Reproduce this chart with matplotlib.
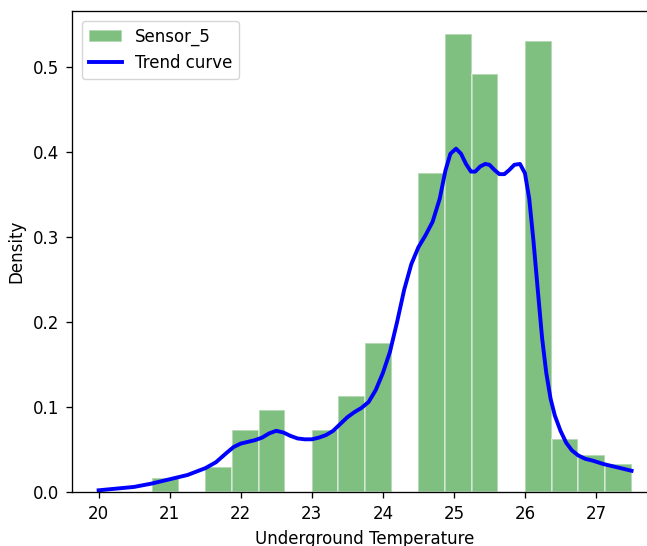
import numpy as np
import matplotlib.pyplot as plt

# histogram bins (width 0.375) and densities
bin_edges = np.linspace(20.0, 27.5, 21)
densities = [0.0, 0.0, 0.016, 0.0, 0.029, 0.073, 0.096, 0.0,
             0.073, 0.113, 0.175, 0.0, 0.375, 0.539, 0.492, 0.0,
             0.531, 0.062, 0.044, 0.033]

# trend curve points
trend_x = [20.0, 20.25, 20.5, 20.75, 21.0, 21.25, 21.5, 21.65, 21.8, 21.9,
           22.0, 22.1, 22.2, 22.3, 22.4, 22.5, 22.6, 22.7, 22.8, 22.9,
           23.0, 23.1, 23.2, 23.3, 23.4, 23.5, 23.6, 23.7, 23.8, 23.9,
           24.0, 24.1, 24.2, 24.3, 24.4, 24.5, 24.6, 24.7, 24.8, 24.88,
           24.95, 25.03, 25.1, 25.17, 25.24, 25.3, 25.37, 25.44, 25.5, 25.57,
           25.64, 25.71, 25.78, 25.85, 25.93, 26.0, 26.06, 26.12, 26.18, 26.24,
           26.3, 26.36, 26.42, 26.5, 26.58, 26.66, 26.75, 26.85, 26.95, 27.1,
           27.3, 27.5]
trend_y = [0.002, 0.004, 0.006, 0.010, 0.015, 0.020, 0.028, 0.035, 0.046, 0.053,
           0.057, 0.059, 0.061, 0.064, 0.069, 0.072, 0.070, 0.066, 0.063, 0.062,
           0.062, 0.064, 0.067, 0.072, 0.080, 0.088, 0.094, 0.099, 0.106, 0.120,
           0.140, 0.165, 0.200, 0.238, 0.268, 0.288, 0.302, 0.318, 0.345, 0.378,
           0.398, 0.404, 0.398, 0.386, 0.377, 0.377, 0.383, 0.386, 0.385, 0.379,
           0.374, 0.374, 0.379, 0.385, 0.386, 0.375, 0.345, 0.295, 0.238, 0.182,
           0.140, 0.110, 0.090, 0.072, 0.058, 0.049, 0.043, 0.039, 0.037, 0.033,
           0.029, 0.025]

plt.rcParams.update({'font.size': 12})

fig = plt.figure(figsize=(6.47, 5.46), dpi=100)
ax = fig.add_axes([0.1113, 0.0989, 0.906, 0.881])

bars = ax.bar(bin_edges[:-1], densities, width=np.diff(bin_edges), align='edge',
              color='green', alpha=0.5, edgecolor='white', linewidth=1.2,
              label='Sensor_5')
line, = ax.plot(trend_x, trend_y, color='blue', linewidth=2.8,
                solid_joinstyle='round', label='Trend curve')

ax.set_xlim(19.625, 27.875)
ax.set_ylim(0, 0.566)
ax.set_yticks([0.0, 0.1, 0.2, 0.3, 0.4, 0.5])
ax.set_xlabel('Underground Temperature', labelpad=5)
ax.set_ylabel('Density', labelpad=5)
for s in ax.spines.values():
    s.set_linewidth(0.95)
ax.tick_params(length=4.5, width=0.95, pad=5)
ax.legend(handles=[bars, line], loc='upper left', borderaxespad=0.6)

fig.savefig('out.png', dpi=100)
